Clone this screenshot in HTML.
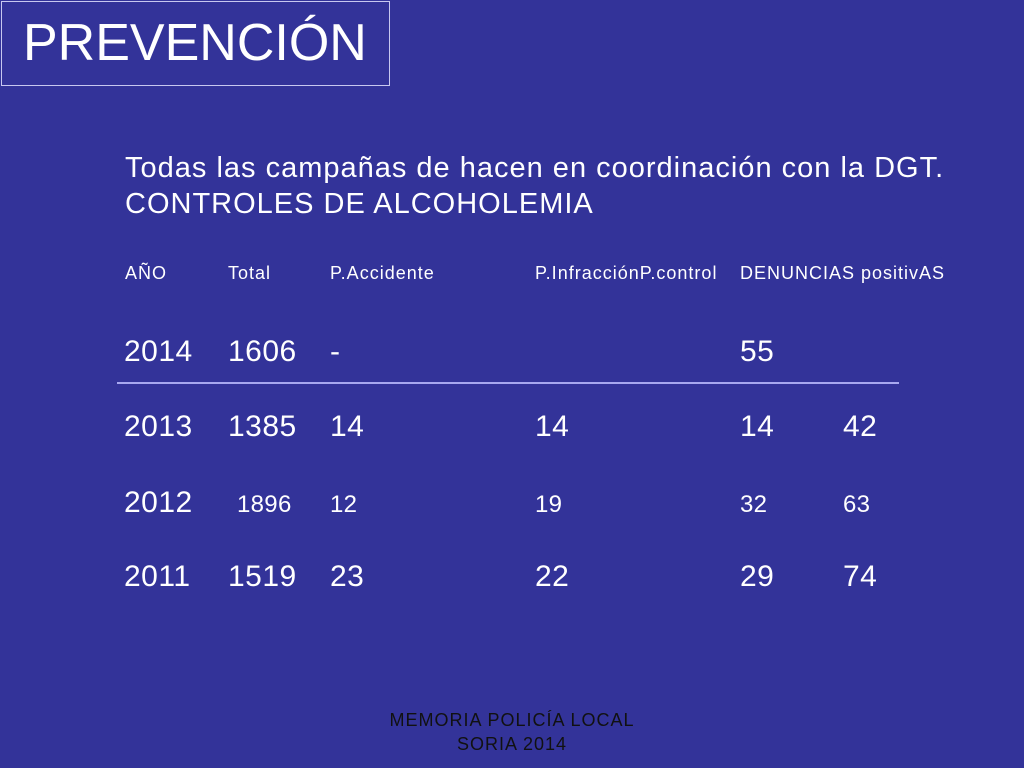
<!DOCTYPE html>
<html><head><meta charset="utf-8"><style>
body{margin:0;width:1024px;height:768px;background:#333399;position:relative;overflow:hidden;font-family:"Liberation Sans",Arial,sans-serif;color:#fff}
.t{position:absolute;white-space:nowrap;line-height:1}
.big{font-size:30px;letter-spacing:0.5px}.sm{font-size:24px;letter-spacing:0.3px}.hd{font-size:18px;letter-spacing:1px}
</style></head><body>
<div style="position:absolute;left:1px;top:1px;width:387px;height:83px;border:1px solid #c8c8f0"></div>
<div class="t" style="left:23px;top:17px;font-size:52px">PREVENCIÓN</div>
<div class="t" style="left:125px;top:154px;font-size:29px;letter-spacing:1px">Todas las campañas de hacen en coordinación con la DGT.</div>
<div class="t" style="left:125px;top:190px;font-size:29px;letter-spacing:1px">CONTROLES DE ALCOHOLEMIA</div>

<div class="t hd" style="left:125px;top:264px">AÑO</div>
<div class="t hd" style="left:228px;top:264px">Total</div>
<div class="t hd" style="left:330px;top:264px">P.Accidente</div>
<div class="t hd" style="left:535px;top:264px">P.InfracciónP.control</div>
<div class="t hd" style="left:740px;top:264px">DENUNCIAS positivAS</div>

<div class="t big" style="left:124px;top:337px">2014</div>
<div class="t big" style="left:228px;top:337px">1606</div>
<div class="t big" style="left:330px;top:337px">-</div>
<div class="t big" style="left:740px;top:337px">55</div>
<div style="position:absolute;left:117px;top:382px;width:782px;height:2px;background:#a8a8f0"></div>

<div class="t big" style="left:124px;top:412px">2013</div>
<div class="t big" style="left:228px;top:412px">1385</div>
<div class="t big" style="left:330px;top:412px">14</div>
<div class="t big" style="left:535px;top:412px">14</div>
<div class="t big" style="left:740px;top:412px">14</div>
<div class="t big" style="left:843px;top:412px">42</div>

<div class="t big" style="left:124px;top:488px">2012</div>
<div class="t sm" style="left:237px;top:493px">1896</div>
<div class="t sm" style="left:330px;top:493px">12</div>
<div class="t sm" style="left:535px;top:493px">19</div>
<div class="t sm" style="left:740px;top:493px">32</div>
<div class="t sm" style="left:843px;top:493px">63</div>

<div class="t big" style="left:124px;top:562px">2011</div>
<div class="t big" style="left:228px;top:562px">1519</div>
<div class="t big" style="left:330px;top:562px">23</div>
<div class="t big" style="left:535px;top:562px">22</div>
<div class="t big" style="left:740px;top:562px">29</div>
<div class="t big" style="left:843px;top:562px">74</div>

<div style="position:absolute;left:352px;width:320px;top:708px;text-align:center;font-size:18px;line-height:24px;letter-spacing:1px;color:#111">MEMORIA POLICÍA LOCAL<br>SORIA 2014</div>
</body></html>
